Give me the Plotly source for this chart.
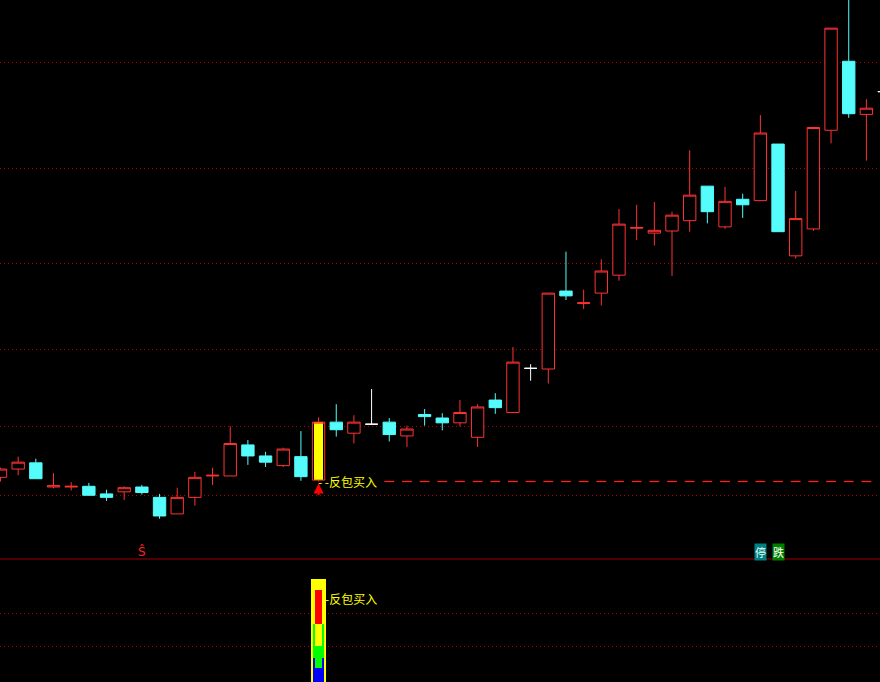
import plotly.graph_objects as go

# ---------------- data ----------------
idx = list(range(51))
opens = [10.26, 10.38, 10.47, 10.12, 10.12, 10.13, 10.02, 10.05, 10.12, 9.97,
         9.73, 9.97, 10.28, 10.28, 10.73, 10.57, 10.43, 10.56, 10.22, 11.06,
         10.90, 11.03, 11.06, 10.86, 11.17, 11.12, 11.05, 10.84, 11.38, 11.20,
         11.84, 11.83, 12.96, 12.78, 12.93, 13.19, 13.87, 13.80, 13.83, 13.98,
         14.48, 13.89, 14.29, 14.27, 15.09, 13.47, 13.86, 15.29, 16.29, 15.52,
         15.85]
highs = [10.40, 10.56, 10.53, 10.32, 10.19, 10.18, 10.08, 10.13, 10.15, 10.02,
         10.11, 10.34, 10.40, 11.00, 10.80, 10.63, 10.69, 10.93, 11.13, 11.32,
         11.16, 11.54, 11.12, 11.01, 11.25, 11.19, 11.38, 11.32, 11.48, 12.15,
         11.90, 12.93, 13.53, 12.98, 13.42, 14.15, 14.21, 14.25, 14.11, 15.00,
         14.48, 14.47, 14.37, 15.51, 15.09, 14.41, 15.33, 16.77, 17.30, 15.74,
         15.85]
lows = [10.20, 10.29, 10.24, 10.10, 10.07, 10.00, 9.92, 9.93, 10.01, 9.66,
        9.73, 9.85, 10.15, 10.28, 10.44, 10.41, 10.41, 10.21, 10.20, 10.85,
        10.75, 11.03, 10.78, 10.70, 11.01, 10.94, 11.00, 10.70, 11.18, 11.20,
        11.66, 11.62, 12.83, 12.70, 12.75, 13.11, 13.70, 13.62, 13.18, 13.82,
        13.94, 13.86, 14.02, 14.27, 13.82, 13.43, 13.83, 15.10, 15.47, 14.85,
        15.85]
closes = [10.38, 10.48, 10.24, 10.14, 10.13, 10.00, 9.97, 10.11, 10.04, 9.70,
          9.97, 10.26, 10.29, 10.75, 10.57, 10.48, 10.67, 10.27, 11.06, 10.95,
          11.06, 11.03, 10.88, 10.96, 11.14, 11.05, 11.20, 11.28, 11.27, 11.93,
          11.84, 12.93, 12.89, 12.79, 13.25, 13.93, 13.88, 13.84, 14.06, 14.35,
          14.11, 14.26, 14.21, 15.25, 13.82, 14.01, 15.33, 16.77, 15.53, 15.61,
          15.85]

grid_prices = [10.000, 11.000, 12.116, 13.362, 14.739, 16.275]

signal_idx = 18            # 反包买入 signal bar
signal_label = "- -反包买入"
sub_label = "-反包买入"
support_from = 22          # dashed support marks start
s_idx = 8                  # "Ŝ" marker
stop_idx = 43              # 停
fall_idx = 44              # 跌

# indicator panel (layered stick lines at signal bar)
ind_base = [-13.0, 40.0, 9.0, 20.0, -13.0, 0.0]
ind_top = [80.5, 70.5, 40.0, 40.0, 9.0, 20.0]
ind_grid = [19.5, 49.5]

# ---------------- styles ----------------
RED = "#FF3232"
CYAN = "#54FCFC"
WHITE = "#FFFFFF"
YELLOW = "#FFFF00"
GRID = "#B00000"
CJK = "Noto Sans CJK SC"

fig = go.Figure()

# yellow fill inside signal candle
fig.add_trace(go.Bar(
    x=[signal_idx], base=[opens[signal_idx]],
    y=[closes[signal_idx] - opens[signal_idx]],
    width=0.47, marker=dict(color=YELLOW, line=dict(width=0)),
    xaxis="x", yaxis="y", hoverinfo="skip"))

# indicator bars (bottom panel)
ind_colors = [YELLOW, "#FF0000", "#00FF00", YELLOW, "#0000FF", "#00FF00"]
ind_widths = [0.85, 0.38, 0.62, 0.38, 0.62, 0.38]
for b, t, c, w in zip(ind_base, ind_top, ind_colors, ind_widths):
    fig.add_trace(go.Bar(
        x=[signal_idx], base=[b], y=[t - b], width=w,
        marker=dict(color=c, line=dict(width=0)),
        xaxis="x", yaxis="y2", hoverinfo="skip"))


def group(sel):
    ii = [i for i in idx if sel(i)]
    return (ii, [opens[i] for i in ii], [highs[i] for i in ii],
            [lows[i] for i in ii], [closes[i] for i in ii])


def add_candles(sel, line_color, fill):
    ii, o, h, l, c = group(sel)
    style = dict(line=dict(color=line_color, width=1), fillcolor=fill)
    fig.add_trace(go.Candlestick(
        x=ii, open=o, high=h, low=l, close=c,
        increasing=style, decreasing=style, whiskerwidth=0,
        xaxis="x", yaxis="y", hoverinfo="skip"))


add_candles(lambda i: i != signal_idx and closes[i] > opens[i], RED, "#000000")
add_candles(lambda i: closes[i] < opens[i], CYAN, CYAN)
add_candles(lambda i: closes[i] == opens[i], WHITE, WHITE)
add_candles(lambda i: i == signal_idx, RED, "rgba(0,0,0,0)")

# support dashes
support = lows[signal_idx]
sx = [i for i in idx if support_from <= i < len(idx) - 1]
fig.add_trace(go.Scatter(
    x=sx, y=[support] * len(sx), mode="markers",
    marker=dict(symbol="line-ew", size=7, line=dict(color="#FF2020", width=1.3)),
    xaxis="x", yaxis="y", hoverinfo="skip"))

row_y = 9.18
annotations = [
    dict(x=signal_idx, y=support, xref="x", yref="y", text="",
         showarrow=True, ax=0, ay=15, standoff=2, arrowhead=2,
         arrowsize=1.0, arrowwidth=2, arrowcolor="#FF0000"),
    dict(x=signal_idx, y=support, xref="x", yref="y", text=signal_label,
         showarrow=False, xanchor="left", yanchor="middle", xshift=-3,
         font=dict(family=CJK, size=12, color=YELLOW)),
    dict(x=signal_idx, y=62.5, xref="x", yref="y2", text=sub_label,
         showarrow=False, xanchor="left", yanchor="middle", xshift=4,
         font=dict(family=CJK, size=12, color=YELLOW)),
    dict(x=s_idx, y=row_y, xref="x", yref="y", text="Ŝ", showarrow=False,
         xanchor="center", yanchor="middle",
         font=dict(family="DejaVu Sans", size=12, color="#FF2020")),
    dict(x=stop_idx, y=row_y, xref="x", yref="y", text="停", showarrow=False,
         xanchor="center", yanchor="middle", bgcolor="#008080", borderpad=0,
         font=dict(family=CJK, size=11, color="#E8FFFF")),
    dict(x=fall_idx, y=row_y, xref="x", yref="y", text="跌", showarrow=False,
         xanchor="center", yanchor="middle", bgcolor="#008000", borderpad=0,
         font=dict(family=CJK, size=11, color="#FFFFFF")),
]

split = (682 - 559) / 682
axis_common = dict(showticklabels=False, zeroline=False, showline=False,
                   ticks="")
fig.update_layout(
    width=880, height=682,
    margin=dict(l=0, r=0, t=0, b=0),
    paper_bgcolor="#000000", plot_bgcolor="#000000",
    showlegend=False, barmode="overlay", bargap=0,
    boxmode="overlay", boxgap=0.3, boxgroupgap=0,
    xaxis=dict(range=[-0.028, 49.77], showgrid=False,
               rangeslider=dict(visible=False), **axis_common),
    yaxis=dict(domain=[split, 1], range=[9.0766, 17.178],
               tickvals=grid_prices, showgrid=True, gridcolor=GRID,
               gridwidth=1, griddash="1px,3px", **axis_common),
    yaxis2=dict(domain=[0, split], range=[-13.0, 98.8], tickvals=ind_grid,
                showgrid=True, gridcolor=GRID, gridwidth=1,
                griddash="1px,3px", anchor="x", **axis_common),
    shapes=[dict(type="line", xref="paper", yref="paper", x0=0, x1=1,
                 y0=split, y1=split, line=dict(color="#A00000", width=1))],
    annotations=annotations,
)

fig.write_html(
    "out.html",
    config={"displayModeBar": False},
    post_script="document.body.style.margin='0';"
                "document.body.style.background='#000';",
)
